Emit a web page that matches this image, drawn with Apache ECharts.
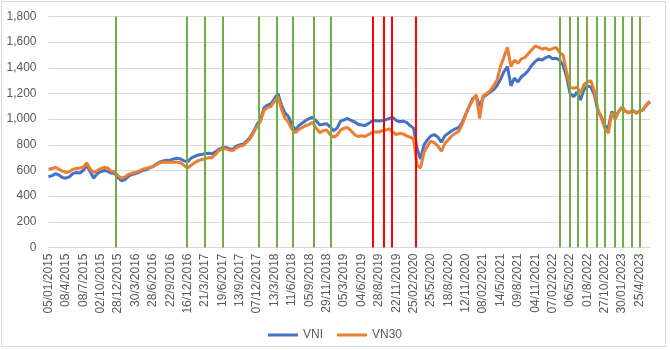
<!DOCTYPE html>
<html>
<head>
<meta charset="utf-8">
<script src="https://cdn.jsdelivr.net/npm/echarts@6/dist/echarts.min.js"></script>
<style>
html,body{margin:0;padding:0;background:#fff;}
#c{width:670px;height:350px;}
</style>
</head>
<body>
<div id="c"></div>
<script>
// Tick labels (one per label interval on the category-like time axis)
const tickLabels = ["05/01/2015","08/4/2015","08/7/2015","02/10/2015","28/12/2015","30/3/2016","28/6/2016","22/9/2016","16/12/2016","21/3/2017","19/6/2017","13/9/2017","07/12/2017","13/3/2018","11/6/2018","05/9/2018","29/11/2018","05/3/2019","04/6/2019","28/8/2019","22/11/2019","25/02/2020","25/5/2020","18/8/2020","12/11/2020","08/02/2021","14/5/2021","09/8/2021","04/11/2021","07/02/2022","06/5/2022","01/8/2022","27/10/2022","30/01/2023","25/4/2023"];
// Samples per label interval
const samplesPerTick = 5;
const vni = [
550,560,575,565,545, 540,550,575,585,580, 600,640,590,540,575, 590,600,595,580,578,
545,520,530,555,570, 575,585,600,605,620, 630,650,665,675,680, 680,690,695,690,675,
668,695,710,720,725, 730,735,730,745,765, 778,780,770,765,790, 800,805,830,860,905,
960,1000,1090,1110,1120, 1160,1200,1110,1050,1020, 960,915,950,970,990, 1005,1015,985,955,960,
965,940,910,930,985, 995,1005,990,980,960, 955,950,965,985,990, 985,990,995,1005,1015,
990,980,985,975,950, 930,770,690,800,840, 870,880,860,820,870, 890,910,925,935,975,
1040,1100,1160,1180,1100, 1170,1190,1210,1230,1260, 1310,1370,1410,1260,1320, 1290,1330,1350,1380,1420,
1450,1470,1460,1480,1490, 1470,1475,1460,1420,1330, 1200,1175,1210,1150,1230, 1260,1250,1190,1060,1020,
950,930,1060,1020,1060, 1090,1060,1050,1070,1050, 1060,1075,1110,1135
];
const vn30 = [
610,615,625,610,595, 585,590,610,615,620, 625,660,610,585,600, 615,625,620,595,590,
560,540,550,570,580, 585,595,610,615,625, 630,645,660,665,665, 665,665,665,660,640,
620,640,660,675,685, 690,700,700,725,755, 770,770,760,755,775, 790,795,820,850,895,
945,985,1070,1090,1100, 1140,1175,1080,1010,975, 920,895,920,935,950, 960,975,930,895,910,
915,880,860,875,915, 930,935,910,880,865, 870,865,880,895,900, 900,910,915,925,900,
880,890,885,870,860, 845,640,620,740,790, 830,815,790,750,810, 840,870,890,905,960,
1030,1100,1150,1190,1005, 1180,1200,1220,1260,1305, 1410,1485,1560,1410,1460, 1435,1470,1480,1510,1540,
1570,1560,1545,1555,1540, 1550,1560,1520,1500,1370, 1250,1240,1250,1200,1270, 1290,1300,1220,1080,1010,
930,890,1050,1000,1060, 1095,1060,1050,1070,1045, 1060,1070,1115,1140
];
// Event dates, expressed as positions along the label axis
const greenEvents = [3.84,7.98,8.96,10.0,12.09,13.11,14.03,15.26,16.22,29.38,29.96,30.44,30.96,31.52,32.0,32.56,33.03,33.55,34.03];
const redEvents = [18.65,19.27,19.77,21.15];
const eventTop = 1800;

const toPairs = arr => arr.map((v,i)=>[i/samplesPerTick, v]);
const xMax = (vni.length-1)/samplesPerTick;

const evLines = (list, color) => list.map(x => [
  {coord:[x,0], lineStyle:{color:color}},
  {coord:[x,eventTop]}
]);

const chart = echarts.init(document.getElementById('c'), null, {renderer:'canvas'});
const FONT = '"Liberation Sans", Arial, sans-serif';
chart.setOption({
  animation:false,
  backgroundColor:'#ffffff',
  textStyle:{fontFamily:FONT},
  grid:{left:48.5, right:20, top:16.5, bottom:102.5, containLabel:false, outerBoundsMode:'none'},
  graphic:[{type:'rect', shape:{x:1.5,y:1.5,width:664,height:345}, style:{fill:'none', stroke:'#D9D9D9', lineWidth:1}, silent:true}],
  legend:{
    bottom:4, left:'center', itemWidth:30, itemHeight:3, itemGap:14,
    textStyle:{color:'#595959', fontSize:12, fontFamily:FONT},
    data:[{name:'VNI', icon:'rect'},{name:'VN30', icon:'rect'}]
  },
  xAxis:{
    type:'value', min:0, max:xMax, interval:1,
    axisLine:{show:true, lineStyle:{color:'#D9D9D9', width:1}},
    axisTick:{show:false},
    splitLine:{show:false},
    axisLabel:{
      rotate:90, margin:6, color:'#595959', fontSize:12, fontFamily:FONT,
      showMaxLabel:false,
      formatter: v => (Number.isInteger(v) && tickLabels[v]) ? tickLabels[v] : ''
    }
  },
  yAxis:{
    type:'value', min:0, max:1800, interval:200,
    axisLine:{show:false}, axisTick:{show:false},
    splitLine:{lineStyle:{color:'#D9D9D9', width:1}},
    axisLabel:{color:'#595959', fontSize:12, margin:12, fontFamily:FONT,
      formatter: v => v.toLocaleString('en-US')}
  },
  series:[
    {name:'VNI', type:'line', data:toPairs(vni), showSymbol:false, symbol:'none',
     lineStyle:{color:'#4472C4', width:3}, itemStyle:{color:'#4472C4'}, z:2},
    {name:'VN30', type:'line', data:toPairs(vn30), showSymbol:false, symbol:'none',
     lineStyle:{color:'#ED7D31', width:3}, itemStyle:{color:'#ED7D31'}, z:3},
    {name:'events', type:'line', data:[], z:4,
     markLine:{silent:true, symbol:['none','none'], label:{show:false},
       lineStyle:{width:2, type:'solid', color:'#70AD47'},
       data: evLines(greenEvents,'#70AD47').concat(evLines(redEvents,'#FF0000'))}}
  ]
});
</script>
</body>
</html>
